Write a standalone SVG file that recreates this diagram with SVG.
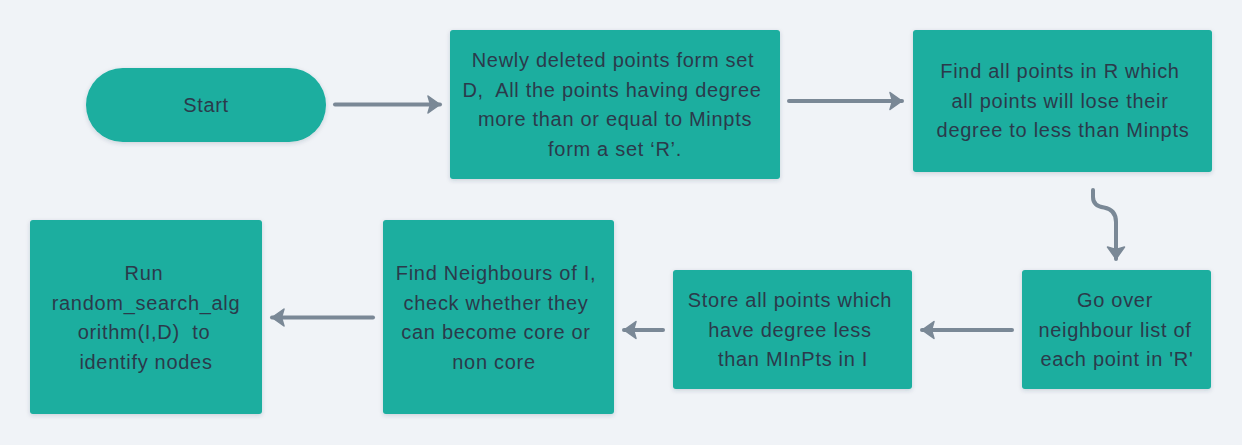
<svg xmlns="http://www.w3.org/2000/svg" width="1242" height="445" viewBox="0 0 1242 445">
<defs>
<style>
.box{fill:#1aae9f;filter:url(#sh);}
.t{font-family:"Liberation Sans",Arial,sans-serif;font-size:20px;letter-spacing:0.7px;fill:#2b3a4b;text-anchor:middle;white-space:pre;}
.c{fill:none;stroke:#7a8896;stroke-width:4;stroke-linecap:round;stroke-linejoin:round;marker-end:url(#ah);}
</style>
<filter id="sh" x="-10%" y="-10%" width="120%" height="130%">
<feDropShadow dx="0" dy="1.5" stdDeviation="2" flood-color="#2e3d4f" flood-opacity="0.18"/>
</filter>
<marker id="ah" markerUnits="userSpaceOnUse" markerWidth="16" markerHeight="20" viewBox="0 0 16 20" refX="14" refY="10" orient="auto">
<path d="M2,1.5 L14,10 L2,18.5 L4.5,10 Z" fill="#7a8896" stroke="#7a8896" stroke-width="1.5" stroke-linejoin="round"/>
</marker>
</defs>
<rect width="1242" height="445" fill="#f0f3f7"/>
<g id="connectors">
<path class="c" d="M335,104.5 L440,104.5"/>
<path class="c" d="M789,101 L902,101"/>
<path class="c" d="M1093,190 L1093,197 Q1093,206 1104,207.5 Q1116,209.5 1116,222 L1116,259"/>
<path class="c" d="M1012,330 L922,330"/>
<path class="c" d="M663,330 L624,330"/>
<path class="c" d="M373,317.5 L272,317.5"/>
</g>
<g id="start">
<rect class="box" x="86" y="68" width="240" height="74" rx="37"/>
<text class="t" x="206" y="112">Start</text>
</g>
<g id="n2">
<rect class="box" x="450" y="30" width="330" height="149" rx="3"/>
<text class="t" x="613" y="67">Newly deleted points form set</text>
<text class="t" x="612" y="96.5">D,  All the points having degree</text>
<text class="t" x="615" y="126">more than or equal to Minpts</text>
<text class="t" x="615" y="156">form a set ‘R’.</text>
</g>
<g id="n3">
<rect class="box" x="913" y="30" width="299" height="142" rx="3"/>
<text class="t" x="1060" y="78">Find all points in R which</text>
<text class="t" x="1060" y="107.5">all points will lose their</text>
<text class="t" x="1063" y="137">degree to less than Minpts</text>
</g>
<g id="n4">
<rect class="box" x="1022" y="270" width="189" height="119" rx="3"/>
<text class="t" x="1115" y="307">Go over</text>
<text class="t" x="1115" y="336.5">neighbour list of</text>
<text class="t" x="1117" y="366">each point in 'R'</text>
</g>
<g id="n5">
<rect class="box" x="673" y="270" width="239" height="119" rx="3"/>
<text class="t" x="790" y="307">Store all points which</text>
<text class="t" x="790" y="336.5">have degree less</text>
<text class="t" x="793" y="366">than MInPts in I</text>
</g>
<g id="n6">
<rect class="box" x="383" y="220" width="231" height="194" rx="3"/>
<text class="t" x="496" y="280">Find Neighbours of I,</text>
<text class="t" x="496" y="309.5">check whether they</text>
<text class="t" x="496" y="339">can become core or</text>
<text class="t" x="494" y="368.5">non core</text>
</g>
<g id="n7">
<rect class="box" x="30" y="220" width="232" height="194" rx="3"/>
<text class="t" x="144" y="280">Run</text>
<text class="t" x="146" y="309.5">random_search_alg</text>
<text class="t" x="144" y="339">orithm(I,D)  to</text>
<text class="t" x="146" y="368.5">identify nodes</text>
</g>
</svg>
